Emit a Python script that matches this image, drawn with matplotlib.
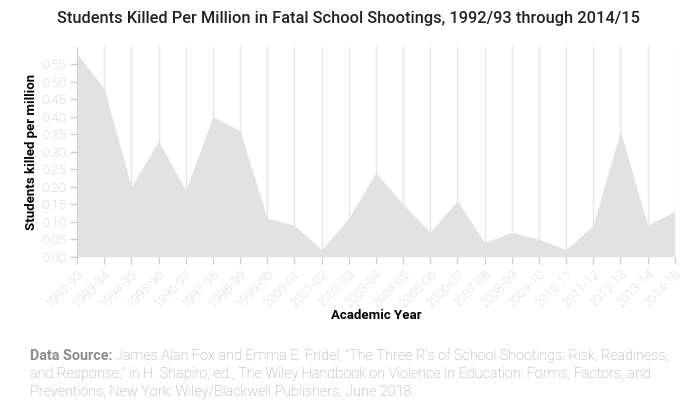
import matplotlib
matplotlib.use("Agg")
import matplotlib.pyplot as plt

years = ["1992-93", "1993-94", "1994-95", "1995-96", "1996-97", "1997-98",
         "1998-99", "1999-00", "2000-01", "2001-02", "2002-03", "2003-04",
         "2004-05", "2005-06", "2006-07", "2007-08", "2008-09", "2009-10",
         "2010-11", "2011-12", "2012-13", "2013-14", "2014-15"]
killed_per_million = [0.58, 0.48, 0.20, 0.33, 0.19, 0.40, 0.36, 0.11, 0.09,
                      0.02, 0.11, 0.24, 0.15, 0.07, 0.16, 0.04, 0.07, 0.05,
                      0.02, 0.09, 0.36, 0.09, 0.13]
y_ticks = [0.00, 0.05, 0.10, 0.15, 0.20, 0.25, 0.30, 0.35, 0.40, 0.45, 0.50, 0.55]

plt.rcParams["font.family"] = ["Roboto", "DejaVu Sans"]

fig = plt.figure(figsize=(6.97, 4.07), dpi=100)
ax = fig.add_axes([0.1105, 0.3693, 0.8575, 0.516])

x = list(range(len(years)))
ax.fill_between(x, killed_per_million, 0, color="#e2e2e2", lw=0, zorder=2)

ax.set_xlim(0, len(years) - 1)
ax.set_ylim(0, 0.6)
ax.set_xticks(x)
ax.set_xticklabels(years, rotation=45, ha="right", rotation_mode="anchor",
                   fontsize=9.5, fontweight="light")
ax.set_yticks(y_ticks)
ax.set_yticklabels([f"{v:.2f}" for v in y_ticks], fontsize=9.6, fontweight="light")
ax.grid(True, axis="x", color="#e6e6e6", lw=1, zorder=1)
ax.tick_params(axis="both", colors="#d0d0d0", length=5, width=1, pad=3)
ax.tick_params(axis="x", labelcolor="#c4c4c4")
ax.tick_params(axis="y", labelcolor="#bdbdbd")

for s in ["top", "right", "bottom"]:
    ax.spines[s].set_visible(False)
ax.spines["left"].set_color("#d0d0d0")

ax.set_ylabel("Students killed per million", fontsize=9.5, fontweight="bold")
ax.yaxis.set_label_coords(-0.066, 0.5)
ax.set_xlabel("Academic Year", fontsize=9.5, fontweight="bold")
ax.xaxis.label.set_va("center")
ax.xaxis.set_label_coords(0.5, (256.7 - 316) / 210)

fig.text(0.5, 0.955, "Students Killed Per Million in Fatal School Shootings, 1992/93 through 2014/15",
         ha="center", va="center", fontsize=11.8, fontweight="medium", color="#222222")

# data source note, bold prefix then the rest
src = fig.text(30 / 697, 1 - 356 / 407, "Data Source:", fontsize=10.4, fontweight="bold",
               color="#8c8c8c", va="center")
fig.canvas.draw()
bb = src.get_window_extent()
fig.text(bb.x1 / fig.bbox.width + 0.004, 1 - 356 / 407,
         "James Alan Fox and Emma E. Fridel, \u201cThe Three R\u2019s of School Shootings: Risk, Readiness,",
         fontsize=10.4, fontweight="light", color="#a0a0a0", va="center")
fig.text(30 / 697, 1 - 374 / 407,
         "and Response,\u201d in H. Shapiro, ed., The Wiley Handbook on Violence in Education: Forms, Factors, and",
         fontsize=10.4, fontweight="light", color="#a0a0a0", va="center")
fig.text(30 / 697, 1 - 392 / 407,
         "Preventions, New York: Wiley/Blackwell Publishers, June 2018.",
         fontsize=10.4, fontweight="light", color="#a0a0a0", va="center")

fig.savefig("out.png", dpi=100)
